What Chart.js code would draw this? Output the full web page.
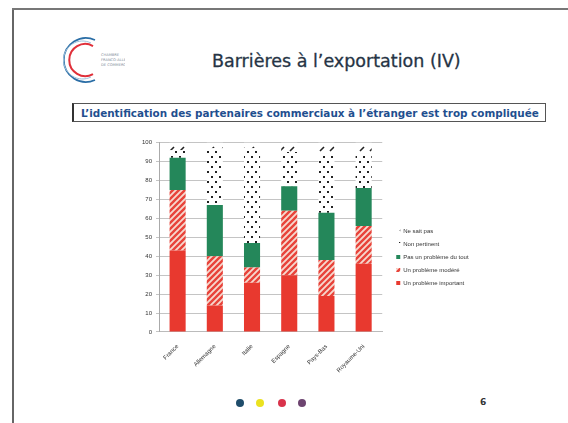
<!DOCTYPE html>
<html>
<head>
<meta charset="utf-8">
<script src="https://cdn.jsdelivr.net/npm/chart.js@4.4.1/dist/chart.umd.min.js"></script>
<style>
  html, body { margin: 0; padding: 0; background: #fff; }
  #slide { position: relative; width: 568px; height: 423px; overflow: hidden; background: #fff; font-family: "DejaVu Sans", Verdana, sans-serif; }
  #frameL { position: absolute; left: 12px; top: 8px; width: 2px; height: 420px; background: #666; }
  #frameT { position: absolute; left: 12px; top: 8px; width: 560px; height: 2px; background: #777; }
  #logo { position: absolute; left: 55px; top: 32px; }
  #title { position: absolute; left: 212px; top: 51px; font-size: 17.5px; color: #263445; white-space: nowrap; -webkit-text-stroke: 0.3px #263445; }
  #subtitle { position: absolute; left: 72px; top: 103px; width: 474px; height: 19px; border: 1px solid #555; border-left: 2px solid #333;
              font-size: 10.4px; font-weight: bold; color: #1f4f8f; line-height: 18px; padding-left: 7px; white-space: nowrap; box-sizing: border-box; }
  #chartBox { position: absolute; left: 138px; top: 135px; width: 339px; height: 242px; }
  .dot { position: absolute; top: 399px; width: 8px; height: 8px; border-radius: 50%; }
  #pageNo { position: absolute; left: 480px; top: 397px; font-size: 9px; font-weight: bold; color: #333; }
</style>
</head>
<body>
<div id="slide">
  <div id="frameL"></div>
  <div id="frameT"></div>
  <svg id="logo" width="70" height="56" viewBox="0 0 70 56">
    <path d="M 40 8 A 22 22 0 1 0 40 48" fill="none" stroke="#2b6ea6" stroke-width="1.6"/>
    <path d="M 38 14 A 16 16 0 1 0 38 42" fill="none" stroke="#e0303a" stroke-width="2"/>
    <path d="M 36 11 A 19 19 0 1 0 36 45" fill="none" stroke="#9cc0dc" stroke-width="1"/>
    <g fill="#7d8a98" font-size="3.6" font-family="DejaVu Sans">
      <text x="46" y="24">CHAMBRE</text>
      <text x="46" y="29">FRANCO-ALLEM.</text>
      <text x="46" y="34">DE COMMERCE</text>
    </g>
  </svg>
  <div id="title">Barrières à l’exportation (IV)</div>
  <div id="subtitle">L’identification des partenaires commerciaux à l’étranger est trop compliquée</div>
  <div id="chartBox"><canvas id="chart"></canvas></div>
  <div class="dot" style="left:236px;background:#1f4d6b"></div>
  <div class="dot" style="left:256px;background:#ebe21f"></div>
  <div class="dot" style="left:278px;background:#d9334b"></div>
  <div class="dot" style="left:298px;background:#6d4470"></div>
  <div id="pageNo">6</div>
</div>
<script>
// data (percent of answers)
const countries = ['France', 'Allemagne', 'Italie', 'Espagne', 'Pays-Bas', 'Royaume-Uni'];
const important = [43, 14, 26, 30, 19, 36];
const modere = [32, 26, 8, 34, 19, 20];
const pasDuTout = [17, 27, 13, 13, 25, 20];
const nonPertinent = [4, 30, 50, 18, 30, 18];
const neSaitPas = [4, 3, 3, 5, 7, 6];
const yTicks = [0, 10, 20, 30, 40, 50, 60, 70, 80, 90, 100];

const LEGEND_GAP = 7;

function makePattern(w, h, draw) {
    const c = document.createElement('canvas');
    c.width = w; c.height = h;
    const g = c.getContext('2d');
    draw(g, w, h);
    return g.createPattern(c, 'repeat');
}

const chartCanvas = document.getElementById('chart');
const ctx = chartCanvas.getContext('2d');

// red / pale stripes
const stripes = makePattern(6, 6, (g, s) => {
    g.fillStyle = '#f6d9cf';
    g.fillRect(0, 0, s, s);
    g.strokeStyle = '#e8433a';
    g.lineWidth = 2.4;
    g.beginPath();
    g.moveTo(-1, s + 1); g.lineTo(s + 1, -1);
    g.moveTo(-1, 1); g.lineTo(1, -1);
    g.moveTo(s - 1, s + 1); g.lineTo(s + 1, s - 1);
    g.stroke();
});

// dotted fill
const dots = makePattern(8, 10, (g, w, h) => {
    g.fillStyle = '#fff';
    g.fillRect(0, 0, w, h);
    g.fillStyle = '#222';
    g.fillRect(1, 1, 2, 2);
    g.fillRect(5, 6, 2, 2);
});

// sparse black dashes
const dashes = makePattern(10, 10, (g, w, h) => {
    g.fillStyle = '#fff';
    g.fillRect(0, 0, w, h);
    g.strokeStyle = '#222';
    g.lineWidth = 1.6;
    g.beginPath();
    g.moveTo(2, 6); g.lineTo(6, 2);
    g.stroke();
});

// leaves some room between the plot and the legend
const legendGap = {
    id: 'legendGap',
    beforeInit(chart) {
        const legend = chart.legend;
        const fit = legend.fit.bind(legend);
        const draw = legend.draw.bind(legend);
        legend.fit = function () { fit(); this.width += LEGEND_GAP; };
        legend.draw = function () { this.left += LEGEND_GAP; draw(); this.left -= LEGEND_GAP; };
    }
};

const datasets = [
    { label: 'Un problème important', data: important, backgroundColor: '#e8392f' },
    { label: 'Un problème modéré', data: modere, backgroundColor: stripes },
    { label: 'Pas un problème du tout', data: pasDuTout, backgroundColor: '#24875a' },
    { label: 'Non pertinent', data: nonPertinent, backgroundColor: dots },
    { label: 'Ne sait pas', data: neSaitPas, backgroundColor: dashes }
];

new Chart(ctx, {
    type: 'bar',
    data: { labels: countries, datasets: datasets },
    plugins: [legendGap],
    options: {
        responsive: true,
        maintainAspectRatio: false,
        animation: false,
        categoryPercentage: 0.9,
        barPercentage: 0.48,
        layout: { padding: { top: 2, right: 4 } },
        plugins: {
            legend: {
                position: 'right',
                reverse: true,
                labels: {
                    boxWidth: 4,
                    boxHeight: 4,
                    padding: 7,
                    color: '#333',
                    font: { family: 'Liberation Sans', size: 6 }
                }
            },
            tooltip: { enabled: false }
        },
        scales: {
            x: {
                stacked: true,
                grid: { display: false },
                border: { color: '#bbb' },
                ticks: {
                    minRotation: 45,
                    maxRotation: 45,
                    color: '#333',
                    font: { family: 'Liberation Sans', size: 6 }
                }
            },
            y: {
                stacked: true,
                min: yTicks[0],
                max: yTicks[yTicks.length - 1],
                afterBuildTicks: axis => { axis.ticks = yTicks.map(v => ({ value: v })); },
                grid: { color: '#c4c4c4', drawTicks: true, tickLength: 3 },
                border: { color: '#aaa' },
                ticks: {
                    color: '#333',
                    padding: 4,
                    font: { family: 'Liberation Sans', size: 6 }
                }
            }
        }
    }
});
</script>
</body>
</html>
